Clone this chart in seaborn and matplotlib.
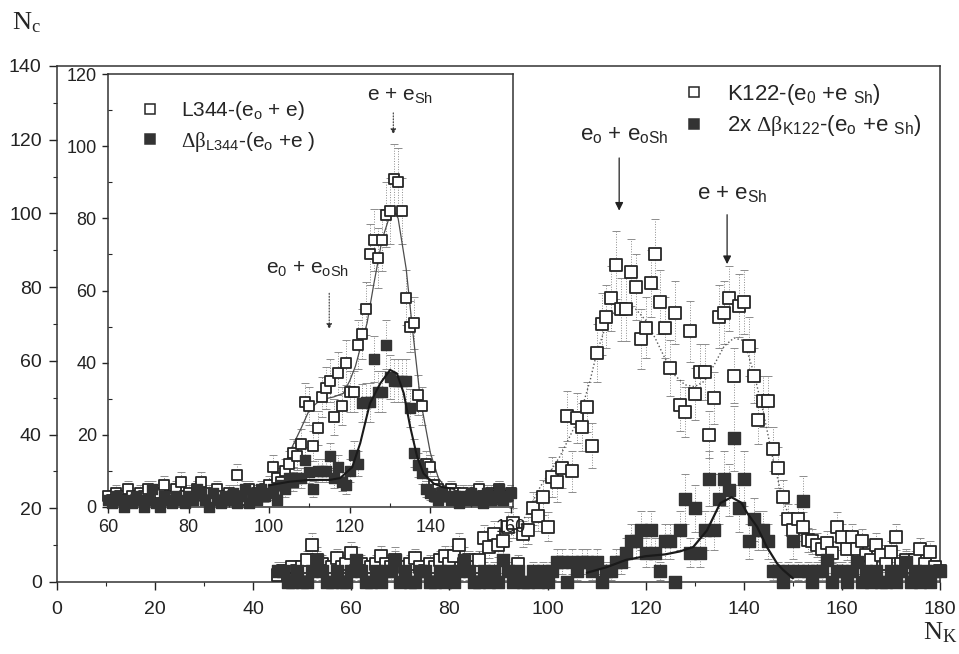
import numpy as np
import matplotlib
matplotlib.use("Agg")
import matplotlib.pyplot as plt
from matplotlib.lines import Line2D
from matplotlib.ticker import MultipleLocator
import seaborn as sns

sns.set_style("ticks")
plt.rcParams['font.family'] = ['Liberation Sans', 'DejaVu Sans']
plt.rcParams['mathtext.fontset'] = 'custom'
plt.rcParams['mathtext.rm'] = 'Liberation Serif'
plt.rcParams['mathtext.sf'] = 'Liberation Sans'
plt.rcParams['mathtext.it'] = 'Liberation Serif:italic'
plt.rcParams['mathtext.bf'] = 'Liberation Serif:bold'

# ---- main plot: K122 ----
k_x = list(range(45, 181))
k_open = [2, 3, 2, 4, 3, 4, 6, 10, 6, 5,
          3, 4, 6.5, 4, 5, 8, 3, 5, 3, 4,
          5, 7, 5, 4, 6, 3, 4, 5, 6.5, 4,
          3, 5, 4, 6, 7, 5, 7, 10, 5, 6,
          4, 6, 12, 9.5, 13, 10, 11, 15, 16, 5,
          13, 14, 20, 18, 23, 15, 28.5, 27, 31, 45,
          30, 44.5, 42, 47.5, 37, 62, 70, 72, 77, 86,
          74, 74, 84, 80, 66, 69, 81, 89, 76, 69,
          58, 73, 48, 46, 68, 51, 57, 57, 40, 50,
          72, 73, 77, 56, 75, 76, 64, 56, 44, 49,
          49, 36, 31, 23, 17, 14, 17, 15, 11.4, 11,
          10, 9, 10.6, 8, 15, 12.3, 9, 12.3, 9, 11,
          7.3, 6, 10, 7.3, 5, 8.2, 12.3, 5, 6, 4,
          6, 9, 5, 8.2, 4, 3]
k_fill = [3, 3, 0, 0, 3, 0, 0, 3, 6, 3,
          0, 0, 3, 0, 0, 3, 6, 3, 0, 0,
          3, 0, 3, 3, 6, 0, 3, 0, 0, 3,
          3, 0, 0, 3, 0, 3, 0, 3, 6, 3,
          0, 0, 3, 0, 3, 0, 6, 3, 0, 3,
          0, 0, 3, 0, 3, 0, 3, 5.5, 5.5, 0,
          5.5, 3, 5.5, 5.5, 3, 5.5, 0, 3, 3, 5.5,
          5.5, 8, 11, 11, 14, 8, 14, 8, 3, 11,
          11, 0, 14, 22.5, 8, 20, 8, 14, 28, 14,
          22.5, 28, 25, 39, 20, 28, 11, 17, 14, 14,
          11, 3, 3, 0, 3, 11, 3, 22, 3, 0,
          3, 3, 6, 0, 3, 3, 0, 3, 5.5, 0,
          3, 0, 3, 0, 0, 3, 0, 3, 5.5, 0,
          3, 0, 3, 0, 3, 3]
# fitted curves
k_open_fit_x = [86, 90, 94, 98.5, 102.5, 106.5, 108.7, 110, 112, 114, 116, 118, 120, 122,
                124, 126, 128, 130, 132, 134, 136, 138, 140, 142, 144, 146, 148, 150, 152, 155]
k_open_fit_y = [8, 10.5, 14, 25.8, 34, 44.8, 54.8, 62, 70, 74, 75, 74, 71, 66,
                60.5, 56, 53.5, 53, 54.5, 59, 64, 66.2, 65.5, 57, 46, 33, 22, 15.5, 12, 10]
k_fill_fit_x = [108, 112, 116, 120, 124, 127, 129.7, 132.5, 135.2, 137.5, 139.5, 140.7,
                142.7, 144.7, 146.8, 148, 150]
k_fill_fit_y = [2.5, 4, 6, 7, 7.5, 8.3, 9.5, 14, 21.4, 23, 21.5, 18.7, 15, 9.5, 5, 3.3, 1]

# ---- inset: L344 ----
l_x = list(range(60, 161))
l_open = [3, 2, 4, 3, 2, 5, 3, 2, 4, 3,
          5, 2, 3, 4, 6, 2, 3, 5, 7, 3,
          4, 2, 5, 7, 3, 4, 2, 5, 3, 2,
          4, 3, 9, 2, 3, 5, 2, 4, 3, 5,
          6, 11, 8, 7, 10, 12, 15, 14, 17.5, 29,
          28, 17, 22, 30.5, 33, 35, 25, 37, 28, 40,
          32, 32, 45, 48, 55, 70, 74, 69, 74, 81,
          82, 91, 90, 82, 58, 50, 51, 31, 28, 12,
          11, 6, 5, 4, 3, 5, 4, 3, 4, 2,
          3, 4, 5, 3, 2, 4, 3, 5, 2, 3, 4]
l_fill = [2, 1, 3, 2, 0, 2, 1, 3, 2, 0,
          2, 5, 1, 0, 3, 2, 1, 3, 2, 1,
          3, 2, 5, 4, 2, 0, 4, 2, 1, 3,
          2, 4, 1, 3, 5, 1, 4, 2, 5, 3,
          4, 5, 2, 6, 5, 8, 7, 8, 8, 13,
          9.7, 5, 10, 10, 10, 14, 8, 11, 7, 6,
          10, 14.4, 12, 28.8, 29, 29, 41, 32, 32, 45,
          36, 35, 35, 35, 35, 27.4, 15, 11.6, 9.4, 5,
          4, 3, 2, 4, 3, 2, 3, 1, 3, 2,
          4, 2, 3, 1, 4, 2, 3, 5, 2, 3, 4]
l_open_fit_x = [98, 102, 105, 108, 110, 112, 114, 116, 118.4, 120, 121.4, 124.3, 126, 128,
                130, 131, 132, 134, 135.5, 137.5, 140, 142, 144, 146]
l_open_fit_y = [3.5, 6, 15, 22, 27, 29, 30, 30.5, 31.5, 35, 39, 51, 62, 74,
                81, 82, 80, 66, 50, 30, 15, 8, 5, 4]
l_fill_fit_x = [100, 105, 110, 115, 117.6, 120.6, 122.6, 125, 127.6, 130, 131.7, 133.4,
                135, 136.7, 138.3, 140.8, 143, 146]
l_fill_fit_y = [6, 7, 7.5, 7.5, 8, 11, 17.7, 28.7, 34.3, 38, 37, 31.5, 22.2, 14, 9.3, 6.5, 5.5, 5]

# statistical (counting) errors
k_open_err = np.sqrt(k_open)
k_fill_err = np.sqrt(2 * np.array(k_fill))
l_open_err = np.sqrt(l_open)
l_fill_err = np.sqrt(l_fill)

EDGE = '#262626'
FILL = '#333333'


def draw_errors(ax, x, y, err):
    eb = ax.errorbar(x, y, yerr=err, fmt='none', ecolor='0.55', elinewidth=0.7,
                     capsize=3, capthick=0.7, zorder=2)
    eb[2][0].set_linestyle(':')


def draw_points(ax, x, y, filled, size):
    if filled:
        pts = sns.scatterplot(x=x, y=y, marker='s', s=size, color=FILL, edgecolor=FILL,
                              linewidth=1.0, ax=ax, zorder=5, legend=False)
    else:
        pts = sns.scatterplot(x=x, y=y, marker='s', s=size, color='white', edgecolor=EDGE,
                              linewidth=1.3, ax=ax, zorder=4, legend=False)
    for c in ax.collections:
        c.set_clip_on(False)


fig = plt.figure(figsize=(9.59, 6.54), dpi=100)
ax = fig.add_axes([0.0594, 0.1101, 0.9208, 0.789])

draw_errors(ax, k_x, k_open, k_open_err)
draw_errors(ax, k_x, k_fill, k_fill_err)
sns.lineplot(x=k_open_fit_x, y=k_open_fit_y, ax=ax, color='0.35', lw=1.0, ls=':', zorder=3)
draw_points(ax, k_x, k_open, False, 80)
draw_points(ax, k_x, k_fill, True, 80)
sns.lineplot(x=k_fill_fit_x, y=k_fill_fit_y, ax=ax, color='#1a1a1a', lw=1.6, zorder=6)

ax.set_xlim(0, 180)
ax.set_ylim(0, 140)
ax.xaxis.set_major_locator(MultipleLocator(20))
ax.xaxis.set_minor_locator(MultipleLocator(10))
ax.yaxis.set_major_locator(MultipleLocator(20))
ax.yaxis.set_minor_locator(MultipleLocator(10))
ax.tick_params(which='major', direction='out', length=6, width=1, labelsize=14, colors='#222')
ax.tick_params(which='minor', direction='out', length=3, width=0.8)
ax.tick_params(axis='x', pad=8)
ax.tick_params(axis='y', pad=5)
ax.tick_params(top=False, right=False, which='both')
for s in ax.spines.values():
    s.set_color('#333')
    s.set_linewidth(1.1)
ax.set_xlabel('')
ax.set_ylabel('')

ax.annotate('', xy=(114.6, 100), xytext=(114.6, 115.8),
            arrowprops=dict(arrowstyle='-|>', color='#222', lw=0.9, mutation_scale=12))
ax.text(115.6, 121.3, r'e$_\mathsf{o}$ + e$_\mathsf{oSh}$', fontsize=16, ha='center', va='center')
ax.annotate('', xy=(136.6, 85.5), xytext=(136.6, 100.4),
            arrowprops=dict(arrowstyle='-|>', color='#222', lw=0.9, mutation_scale=12))
ax.text(137.6, 105.5, r'e + e$_\mathsf{Sh}$', fontsize=16, ha='center', va='center')

open_h = Line2D([], [], marker='s', ls='none', mfc='white', mec=EDGE, ms=6.5, mew=1.1)
fill_h = Line2D([], [], marker='s', ls='none', mfc=FILL, mec=FILL, ms=6.5, mew=1.1)
fig.legend([open_h, fill_h],
           [r'K122-(e$_\mathsf{0}$ +e ${}_\mathsf{Sh}$)',
            r'2x $\mathrm{\Delta\beta}_\mathsf{K122}$-(e$_\mathsf{o}$ +e ${}_\mathsf{Sh}$)'],
           loc='upper left', bbox_to_anchor=(0.712, 0.875), frameon=False, fontsize=16,
           handlelength=1.0, handletextpad=1.0, labelspacing=0.3, borderpad=0, borderaxespad=0)

# ---- inset ----
ins = fig.add_axes([0.1126, 0.2248, 0.4223, 0.662])
ins.set_facecolor('white')
draw_errors(ins, l_x, l_open, l_open_err)
draw_errors(ins, l_x, l_fill, l_fill_err)
sns.lineplot(x=l_open_fit_x, y=l_open_fit_y, ax=ins, color='0.3', lw=0.9, zorder=3)
draw_points(ins, l_x, l_open, False, 50)
draw_points(ins, l_x, l_fill, True, 50)
sns.lineplot(x=l_fill_fit_x, y=l_fill_fit_y, ax=ins, color='#1a1a1a', lw=1.5, zorder=6)

ins.set_xlim(60, 160.5)
ins.set_ylim(0, 120)
ins.xaxis.set_major_locator(MultipleLocator(20))
ins.xaxis.set_minor_locator(MultipleLocator(10))
ins.yaxis.set_major_locator(MultipleLocator(20))
ins.yaxis.set_minor_locator(MultipleLocator(10))
ins.tick_params(which='major', direction='out', length=4, width=1, labelsize=13, colors='#222')
ins.tick_params(which='minor', direction='in', length=3, width=0.8)
ins.tick_params(axis='x', pad=5)
ins.tick_params(axis='y', pad=4)
ins.tick_params(top=False, right=False, which='both')
for s in ins.spines.values():
    s.set_color('#333')
    s.set_linewidth(1.1)
ins.set_xlabel('')
ins.set_ylabel('')

ins.annotate('', xy=(130.8, 102.5), xytext=(130.8, 110),
             arrowprops=dict(arrowstyle='-|>', color='#333', lw=0.8, ls=':', mutation_scale=8))
ins.text(132.5, 114, r'e + e$_\mathsf{Sh}$', fontsize=15, ha='center', va='center')
ins.annotate('', xy=(114.9, 48.5), xytext=(114.9, 60),
             arrowprops=dict(arrowstyle='-|>', color='#333', lw=0.8, ls=':', mutation_scale=8))
ins.text(109.4, 66, r'e$_\mathsf{0}$ + e$_\mathsf{oSh}$', fontsize=15, ha='center', va='center')

ins.legend([open_h, fill_h],
           [r'L344-(e$_\mathsf{o}$ + e)',
            r'$\mathrm{\Delta\beta}_\mathsf{L344}$-(e$_\mathsf{o}$ +e )'],
           loc='upper left', bbox_to_anchor=(0.1456, 0.848), bbox_transform=fig.transFigure,
           frameon=False, fontsize=15, handlelength=1.0, handletextpad=1.0,
           labelspacing=0.35, borderpad=0, borderaxespad=0)

fig.text(0.013, 0.965, r'$\mathrm{N_c}$', fontsize=19, ha='left', va='center')
fig.text(0.962, 0.033, r'$\mathrm{N_K}$', fontsize=19, ha='left', va='center')

fig.savefig('out.png', dpi=100, facecolor='white')
